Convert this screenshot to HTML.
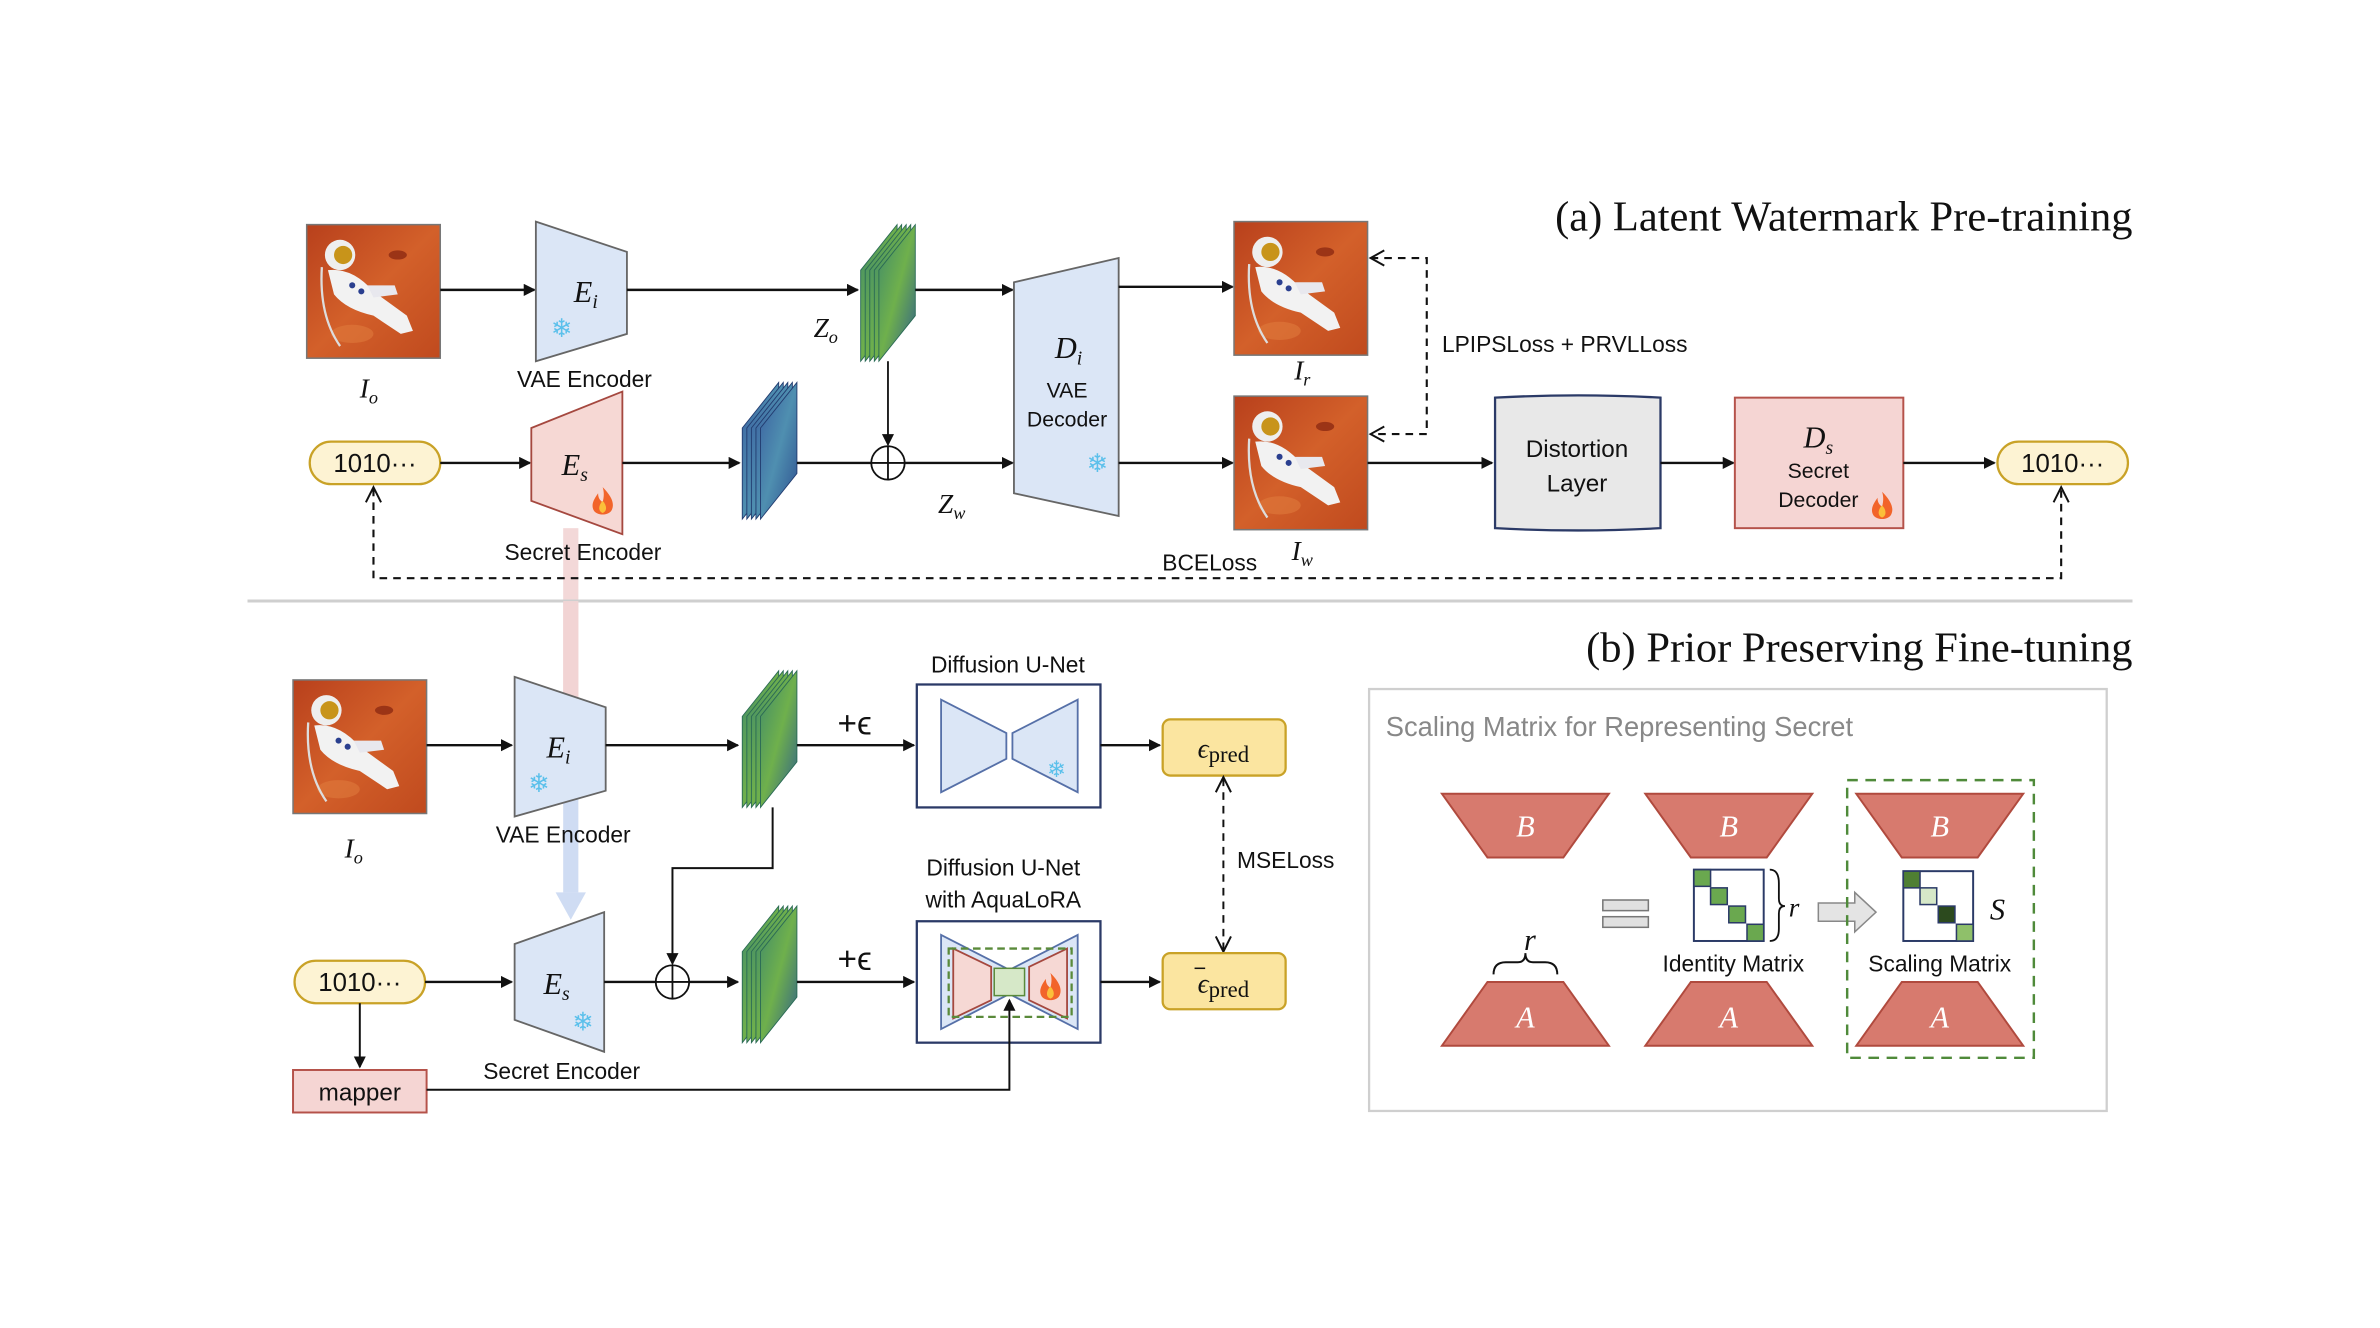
<!DOCTYPE html>
<html><head><meta charset="utf-8"><style>
html,body{margin:0;padding:0;background:#fff;}
svg{display:block;}
.s{font-family:"Liberation Sans","DejaVu Sans",sans-serif;}
.m{font-family:"Liberation Serif",serif;font-style:italic;}
</style></head><body>
<svg width="2380" height="1328" viewBox="0 0 1568 875" xmlns="http://www.w3.org/2000/svg">
<defs>
<marker id="ah" markerWidth="8" markerHeight="8" refX="7" refY="4" orient="auto" markerUnits="userSpaceOnUse"><path d="M0,0 L8,4 L0,8 z" fill="#111"/></marker>
<linearGradient id="mars" x1="0" y1="0" x2="1" y2="1"><stop offset="0" stop-color="#b8401c"/><stop offset="0.5" stop-color="#d3602a"/><stop offset="1" stop-color="#c04a1e"/></linearGradient>
<linearGradient id="fg" x1="0" y1="0" x2="1" y2="1"><stop offset="0" stop-color="#3f8a6a"/><stop offset="0.5" stop-color="#6fb04c"/><stop offset="1" stop-color="#2f5f8a"/></linearGradient>
<linearGradient id="fb" x1="0" y1="0" x2="1" y2="1"><stop offset="0" stop-color="#3a5fa0"/><stop offset="0.5" stop-color="#4f8fb0"/><stop offset="1" stop-color="#2d4f8f"/></linearGradient>
<g id="astro">
<rect x="0" y="0" width="88" height="88" fill="url(#mars)" stroke="#777" stroke-width="1"/>
<ellipse cx="60" cy="20" rx="6" ry="3" fill="#9b3416"/>
<ellipse cx="30" cy="72" rx="14" ry="6" fill="#e07a3c" opacity="0.6"/>
<circle cx="22" cy="20" r="10" fill="#eee"/>
<circle cx="24" cy="20" r="6" fill="#c8941a"/>
<path d="M14,30 Q30,28 44,44 L66,60 L70,70 L62,72 L44,60 Q26,56 18,46 Z" fill="#f2f2f2"/>
<path d="M40,40 L58,40 L60,46 L44,48 Z" fill="#e8e8ee"/>
<circle cx="30" cy="40" r="2" fill="#2a3f8f"/><circle cx="36" cy="44" r="2" fill="#2a3f8f"/>
<path d="M10,28 Q8,60 22,80" stroke="#ddd" stroke-width="1.5" fill="none"/>
</g>
<g id="fstack">
<polygon points="0,30 24,0 24,60 0,90" fill="url(#fg)" stroke="#2a6a55" stroke-width="0.6"/>
<polygon points="3,30 27,0 27,60 3,90" fill="url(#fg)" stroke="#2a6a55" stroke-width="0.6"/>
<polygon points="6,30 30,0 30,60 6,90" fill="url(#fg)" stroke="#2a6a55" stroke-width="0.6"/>
<polygon points="9,30 33,0 33,60 9,90" fill="url(#fg)" stroke="#2a6a55" stroke-width="0.6"/>
<polygon points="12,30 36,0 36,60 12,90" fill="url(#fg)" stroke="#2a6a55" stroke-width="0.6"/>
</g>
<g id="bstack">
<polygon points="0,30 24,0 24,60 0,90" fill="url(#fb)" stroke="#223c70" stroke-width="0.6"/>
<polygon points="3,30 27,0 27,60 3,90" fill="url(#fb)" stroke="#223c70" stroke-width="0.6"/>
<polygon points="6,30 30,0 30,60 6,90" fill="url(#fb)" stroke="#223c70" stroke-width="0.6"/>
<polygon points="9,30 33,0 33,60 9,90" fill="url(#fb)" stroke="#223c70" stroke-width="0.6"/>
<polygon points="12,30 36,0 36,60 12,90" fill="url(#fb)" stroke="#223c70" stroke-width="0.6"/>
</g>
<g id="fire"><path d="M0,-9 C6,-3 8,2 6,6 C4,10 -4,10 -6,6 C-8,2 -5,-2 -3,-5 C-3,-1 -1,0 0,1 C1,-3 1,-6 0,-9 Z" fill="#f2642a"/><path d="M0,0 C3,3 3,7 0,8 C-3,7 -3,3 0,0 Z" fill="#fbbf3a"/></g>
</defs>

<g class="s" font-size="15" fill="#111">
<text x="1405" y="152" text-anchor="end" font-family="Liberation Serif,serif" font-size="28">(a) Latent Watermark Pre-training</text>
<use href="#astro" x="202" y="148"/>
<text x="243" y="262" class="m" font-size="18" text-anchor="middle">I<tspan font-size="12" dy="4">o</tspan></text>
<line x1="290" y1="191" x2="352" y2="191" stroke="#111" stroke-width="1.6" marker-end="url(#ah)"/>
<polygon points="353,146 413,166 413,220 353,238" fill="#dbe6f6" stroke="#666" stroke-width="1.2"/>
<text x="378" y="199" class="m" font-size="20">E<tspan font-size="13" dy="4">i</tspan></text>
<text x="370" y="222" font-size="17" fill="#5bc0eb" text-anchor="middle">❄</text>
<text x="385" y="255" text-anchor="middle">VAE Encoder</text>
<line x1="413" y1="191" x2="565" y2="191" stroke="#111" stroke-width="1.6" marker-end="url(#ah)"/>
<use href="#fstack" x="567" y="148"/>
<text x="544" y="222" class="m" font-size="18" text-anchor="middle">Z<tspan font-size="12" dy="4">o</tspan></text>
<line x1="603" y1="191" x2="667" y2="191" stroke="#111" stroke-width="1.6" marker-end="url(#ah)"/>
<polygon points="668,186 737,170 737,340 668,325" fill="#dbe6f6" stroke="#666" stroke-width="1.2"/>
<text x="704" y="236" class="m" font-size="20" text-anchor="middle">D<tspan font-size="13" dy="4">i</tspan></text>
<text x="703" y="262" text-anchor="middle" font-size="14">VAE</text>
<text x="703" y="281" text-anchor="middle" font-size="14">Decoder</text>
<text x="723" y="311" font-size="17" fill="#5bc0eb" text-anchor="middle">❄</text>
<line x1="737" y1="189" x2="812" y2="189" stroke="#111" stroke-width="1.6" marker-end="url(#ah)"/>
<use href="#astro" x="813" y="146"/>
<text x="858" y="250" class="m" font-size="18" text-anchor="middle">I<tspan font-size="12" dy="4">r</tspan></text>

<rect x="204" y="291" width="86" height="28" rx="14" fill="#fdf3d3" stroke="#c9a227" stroke-width="1.5"/>
<text x="247" y="311" text-anchor="middle" font-size="17">1010···</text>
<line x1="290" y1="305" x2="349" y2="305" stroke="#111" stroke-width="1.6" marker-end="url(#ah)"/>
<rect x="371" y="348" width="10" height="145" fill="#f2d4d4" opacity="0.9"/>
<polygon points="350,282 410,258 410,352 350,330" fill="#f6d8d4" stroke="#a5483f" stroke-width="1.2"/>
<text x="370" y="313" class="m" font-size="20">E<tspan font-size="13" dy="4">s</tspan></text>
<use href="#fire" x="397" y="330"/>
<text x="384" y="369" text-anchor="middle">Secret Encoder</text>
<line x1="410" y1="305" x2="487" y2="305" stroke="#111" stroke-width="1.6" marker-end="url(#ah)"/>
<use href="#bstack" x="489" y="252"/>
<line x1="525" y1="305" x2="574" y2="305" stroke="#111" stroke-width="1.6"/>
<line x1="585" y1="238" x2="585" y2="293" stroke="#111" stroke-width="1.2" marker-end="url(#ah)"/>
<circle cx="585" cy="305" r="11" fill="none" stroke="#111" stroke-width="1.2"/>
<line x1="574" y1="305" x2="596" y2="305" stroke="#111" stroke-width="1.2"/>
<line x1="585" y1="294" x2="585" y2="316" stroke="#111" stroke-width="1.2"/>
<line x1="596" y1="305" x2="667" y2="305" stroke="#111" stroke-width="1.6" marker-end="url(#ah)"/>
<text x="627" y="338" class="m" font-size="18" text-anchor="middle">Z<tspan font-size="12" dy="4">w</tspan></text>
<line x1="737" y1="305" x2="812" y2="305" stroke="#111" stroke-width="1.6" marker-end="url(#ah)"/>
<use href="#astro" x="813" y="261"/>
<text x="858" y="369" class="m" font-size="18" text-anchor="middle">I<tspan font-size="12" dy="4">w</tspan></text>

<path d="M903,170 L940,170 L940,286 L903,286" fill="none" stroke="#111" stroke-width="1.4" stroke-dasharray="5,4"/>
<path d="M912,165 L903,170 L912,175" fill="none" stroke="#111" stroke-width="1.3"/>
<path d="M912,281 L903,286 L912,291" fill="none" stroke="#111" stroke-width="1.3"/>
<text x="950" y="232">LPIPSLoss + PRVLLoss</text>

<line x1="901" y1="305" x2="983" y2="305" stroke="#111" stroke-width="1.6" marker-end="url(#ah)"/>
<path d="M985,262 Q1040,259 1094,262 L1094,348 Q1040,351 985,348 Z" fill="#e8e8e8" stroke="#2b3a67" stroke-width="1.5"/>
<text x="1039" y="301" text-anchor="middle" font-size="16">Distortion</text>
<text x="1039" y="324" text-anchor="middle" font-size="16">Layer</text>
<line x1="1094" y1="305" x2="1142" y2="305" stroke="#111" stroke-width="1.6" marker-end="url(#ah)"/>
<rect x="1143" y="262" width="111" height="86" fill="#f5d5d3" stroke="#b5524a" stroke-width="1.3"/>
<text x="1198" y="295" class="m" font-size="20" text-anchor="middle">D<tspan font-size="13" dy="4">s</tspan></text>
<text x="1198" y="315" text-anchor="middle" font-size="14">Secret</text>
<text x="1198" y="334" text-anchor="middle" font-size="14">Decoder</text>
<use href="#fire" x="1240" y="333"/>
<line x1="1254" y1="305" x2="1314" y2="305" stroke="#111" stroke-width="1.6" marker-end="url(#ah)"/>
<rect x="1316" y="291" width="86" height="28" rx="14" fill="#fdf3d3" stroke="#c9a227" stroke-width="1.5"/>
<text x="1359" y="311" text-anchor="middle" font-size="17">1010···</text>

<path d="M246,322 L246,381 L1358,381 L1358,322" fill="none" stroke="#111" stroke-width="1.4" stroke-dasharray="5,4"/>
<path d="M241,331 L246,321 L251,331" fill="none" stroke="#111" stroke-width="1.3"/>
<path d="M1353,331 L1358,321 L1363,331" fill="none" stroke="#111" stroke-width="1.3"/>
<text x="797" y="376" text-anchor="middle">BCELoss</text>

<line x1="163" y1="396" x2="1405" y2="396" stroke="#cfcfcf" stroke-width="2"/>

<text x="1405" y="436" text-anchor="end" font-family="Liberation Serif,serif" font-size="28">(b) Prior Preserving Fine-tuning</text>
<rect x="371" y="396" width="10" height="96" fill="#f2d4d4" opacity="0.9"/>
<rect x="371" y="492" width="10" height="96" fill="#cfdcf3"/>
<polygon points="366,588 386,588 376,606" fill="#cfdcf3"/>
<use href="#astro" x="193" y="448"/>
<text x="233" y="565" class="m" font-size="18" text-anchor="middle">I<tspan font-size="12" dy="4">o</tspan></text>
<line x1="281" y1="491" x2="337" y2="491" stroke="#111" stroke-width="1.6" marker-end="url(#ah)"/>
<polygon points="339,446 399,466 399,521 339,538" fill="#dbe6f6" stroke="#666" stroke-width="1.2"/>
<text x="360" y="499" class="m" font-size="20">E<tspan font-size="13" dy="4">i</tspan></text>
<text x="355" y="522" font-size="17" fill="#5bc0eb" text-anchor="middle">❄</text>
<text x="371" y="555" text-anchor="middle">VAE Encoder</text>
<line x1="399" y1="491" x2="486" y2="491" stroke="#111" stroke-width="1.6" marker-end="url(#ah)"/>
<use href="#fstack" x="489" y="442"/>
<text x="563" y="484" text-anchor="middle" font-size="22">+ϵ</text>
<line x1="525" y1="491" x2="602" y2="491" stroke="#111" stroke-width="1.6" marker-end="url(#ah)"/>
<text x="664" y="443" text-anchor="middle">Diffusion U-Net</text>
<rect x="604" y="451" width="121" height="81" fill="#fff" stroke="#2b3a67" stroke-width="1.5"/>
<polygon points="620,461 663,483 663,500 620,522" fill="#dbe6f6" stroke="#5670a8" stroke-width="1.2"/>
<polygon points="710,461 667,483 667,500 710,522" fill="#dbe6f6" stroke="#5670a8" stroke-width="1.2"/>
<text x="696" y="512" font-size="15" fill="#5bc0eb" text-anchor="middle">❄</text>
<line x1="725" y1="491" x2="764" y2="491" stroke="#111" stroke-width="1.6" marker-end="url(#ah)"/>
<rect x="766" y="474" width="81" height="37" rx="5" fill="#fbe5a0" stroke="#c9a227" stroke-width="1.5"/>
<text x="806" y="499" text-anchor="middle" class="m" font-size="18">ϵ<tspan font-style="normal" font-family="Liberation Serif,serif" font-size="15" dy="3">pred</tspan></text>

<line x1="806" y1="513" x2="806" y2="626" stroke="#111" stroke-width="1.3" stroke-dasharray="5,4"/>
<path d="M801,522 L806,512 L811,522" fill="none" stroke="#111" stroke-width="1.3"/>
<path d="M801,617 L806,627 L811,617" fill="none" stroke="#111" stroke-width="1.3"/>
<text x="815" y="572">MSELoss</text>

<path d="M509,532 L509,572 L443,572 L443,635" fill="none" stroke="#111" stroke-width="1.3" marker-end="url(#ah)"/>
<rect x="194" y="633" width="86" height="28" rx="14" fill="#fdf3d3" stroke="#c9a227" stroke-width="1.5"/>
<text x="237" y="653" text-anchor="middle" font-size="17">1010···</text>
<line x1="280" y1="647" x2="337" y2="647" stroke="#111" stroke-width="1.6" marker-end="url(#ah)"/>
<polygon points="339,622 398,601 398,693 339,672" fill="#dbe6f6" stroke="#666" stroke-width="1.2"/>
<text x="358" y="655" class="m" font-size="20">E<tspan font-size="13" dy="4">s</tspan></text>
<text x="384" y="679" font-size="17" fill="#5bc0eb" text-anchor="middle">❄</text>
<text x="370" y="711" text-anchor="middle">Secret Encoder</text>
<line x1="398" y1="647" x2="432" y2="647" stroke="#111" stroke-width="1.6"/>
<circle cx="443" cy="647" r="11" fill="none" stroke="#111" stroke-width="1.2"/>
<line x1="432" y1="647" x2="454" y2="647" stroke="#111" stroke-width="1.2"/>
<line x1="443" y1="636" x2="443" y2="658" stroke="#111" stroke-width="1.2"/>
<line x1="454" y1="647" x2="486" y2="647" stroke="#111" stroke-width="1.6" marker-end="url(#ah)"/>
<use href="#fstack" x="489" y="597"/>
<text x="563" y="639" text-anchor="middle" font-size="22">+ϵ</text>
<line x1="525" y1="647" x2="602" y2="647" stroke="#111" stroke-width="1.6" marker-end="url(#ah)"/>
<text x="661" y="577" text-anchor="middle">Diffusion U-Net</text>
<text x="661" y="598" text-anchor="middle">with AquaLoRA</text>
<rect x="604" y="607" width="121" height="80" fill="#fff" stroke="#2b3a67" stroke-width="1.5"/>
<polygon points="620,616 663,638 663,656 620,678" fill="#dbe6f6" stroke="#5670a8" stroke-width="1.2"/>
<polygon points="710,616 667,638 667,656 710,678" fill="#dbe6f6" stroke="#5670a8" stroke-width="1.2"/>
<polygon points="628,625 653,637 653,659 628,671" fill="#f6d8d4" stroke="#a5483f" stroke-width="1.2"/>
<polygon points="703,625 678,637 678,659 703,671" fill="#f6d8d4" stroke="#a5483f" stroke-width="1.2"/>
<rect x="655" y="638" width="20" height="18" fill="#d6e8c8" stroke="#5a8a3a" stroke-width="1"/>
<rect x="625" y="625" width="81" height="45" fill="none" stroke="#5a8a3a" stroke-width="1.5" stroke-dasharray="5,3"/>
<use href="#fire" x="692" y="650"/>
<line x1="725" y1="647" x2="764" y2="647" stroke="#111" stroke-width="1.6" marker-end="url(#ah)"/>
<rect x="766" y="628" width="81" height="37" rx="5" fill="#fbe5a0" stroke="#c9a227" stroke-width="1.5"/>
<text x="806" y="654" text-anchor="middle" class="m" font-size="18">ϵ<tspan font-style="normal" font-family="Liberation Serif,serif" font-size="15" dy="3">pred</tspan></text>
<line x1="787" y1="638" x2="794" y2="638" stroke="#111" stroke-width="1"/>

<line x1="237" y1="661" x2="237" y2="703" stroke="#111" stroke-width="1.3" marker-end="url(#ah)"/>
<rect x="193" y="705" width="88" height="28" fill="#f5d5d3" stroke="#b5524a" stroke-width="1.3"/>
<text x="237" y="725" text-anchor="middle" font-size="16">mapper</text>
<path d="M281,718 L665,718 L665,659" fill="none" stroke="#111" stroke-width="1.3" marker-end="url(#ah)"/>

<rect x="902" y="454" width="486" height="278" fill="#fff" stroke="#cfcfcf" stroke-width="1.5"/>
<text x="913" y="485" font-size="18" fill="#888">Scaling Matrix for Representing Secret</text>
<g fill="#d77a6e" stroke="#b04a3e" stroke-width="1.3">
<polygon points="950,523 1060,523 1030,565 980,565"/>
<polygon points="980,647 1030,647 1060,689 950,689"/>
<polygon points="1084,523 1194,523 1164,565 1114,565"/>
<polygon points="1114,647 1164,647 1194,689 1084,689"/>
<polygon points="1223,523 1333,523 1303,565 1253,565"/>
<polygon points="1253,647 1303,647 1333,689 1223,689"/>
</g>
<g class="m" font-size="20" fill="#fff" text-anchor="middle">
<text x="1005" y="551">B</text><text x="1005" y="677">A</text>
<text x="1139" y="551">B</text><text x="1139" y="677">A</text>
<text x="1278" y="551">B</text><text x="1278" y="677">A</text>
</g>
<path d="M984,642 Q984,634 992,634 L1000,634 Q1005,634 1005,628 Q1005,634 1010,634 L1018,634 Q1026,634 1026,642" fill="none" stroke="#111" stroke-width="1.3"/>
<text x="1008" y="626" class="m" font-size="20" text-anchor="middle">r</text>
<rect x="1056" y="593" width="30" height="7" fill="#e0e0e0" stroke="#777" stroke-width="1"/>
<rect x="1056" y="604" width="30" height="7" fill="#e0e0e0" stroke="#777" stroke-width="1"/>
<rect x="1116" y="573" width="46" height="47" fill="#fff" stroke="#2b3a67" stroke-width="1.3"/>
<g stroke="#2b3a67" stroke-width="1">
<rect x="1116" y="573" width="11" height="11" fill="#6aa84f"/>
<rect x="1127" y="585" width="11" height="11" fill="#6aa84f"/>
<rect x="1139" y="597" width="11" height="11" fill="#6aa84f"/>
<rect x="1151" y="609" width="11" height="11" fill="#6aa84f"/>
</g>
<path d="M1166,573 Q1172,573 1172,582 L1172,592 Q1172,597 1176,597 Q1172,597 1172,602 L1172,612 Q1172,620 1166,620" fill="none" stroke="#111" stroke-width="1.2"/>
<text x="1182" y="604" class="m" font-size="18" text-anchor="middle">r</text>
<text x="1142" y="640" text-anchor="middle" font-size="15">Identity Matrix</text>
<path d="M1198,595 L1222,595 L1222,588 L1236,601 L1222,614 L1222,607 L1198,607 Z" fill="#e4e4e4" stroke="#888" stroke-width="1"/>
<rect x="1217" y="514" width="123" height="183" fill="none" stroke="#4f8a3a" stroke-width="1.6" stroke-dasharray="7,5"/>
<rect x="1254" y="574" width="46" height="46" fill="#fff" stroke="#2b3a67" stroke-width="1.3"/>
<g stroke="#2b3a67" stroke-width="1">
<rect x="1254" y="574" width="11" height="11" fill="#4f7f33"/>
<rect x="1265" y="585" width="11" height="11" fill="#d6e8c8"/>
<rect x="1277" y="597" width="11" height="11" fill="#2c4a1e"/>
<rect x="1289" y="609" width="11" height="11" fill="#8fc06a"/>
</g>
<text x="1316" y="606" class="m" font-size="20" text-anchor="middle">S</text>
<text x="1278" y="640" text-anchor="middle" font-size="15">Scaling Matrix</text>
</g>
</svg>
</body></html>
